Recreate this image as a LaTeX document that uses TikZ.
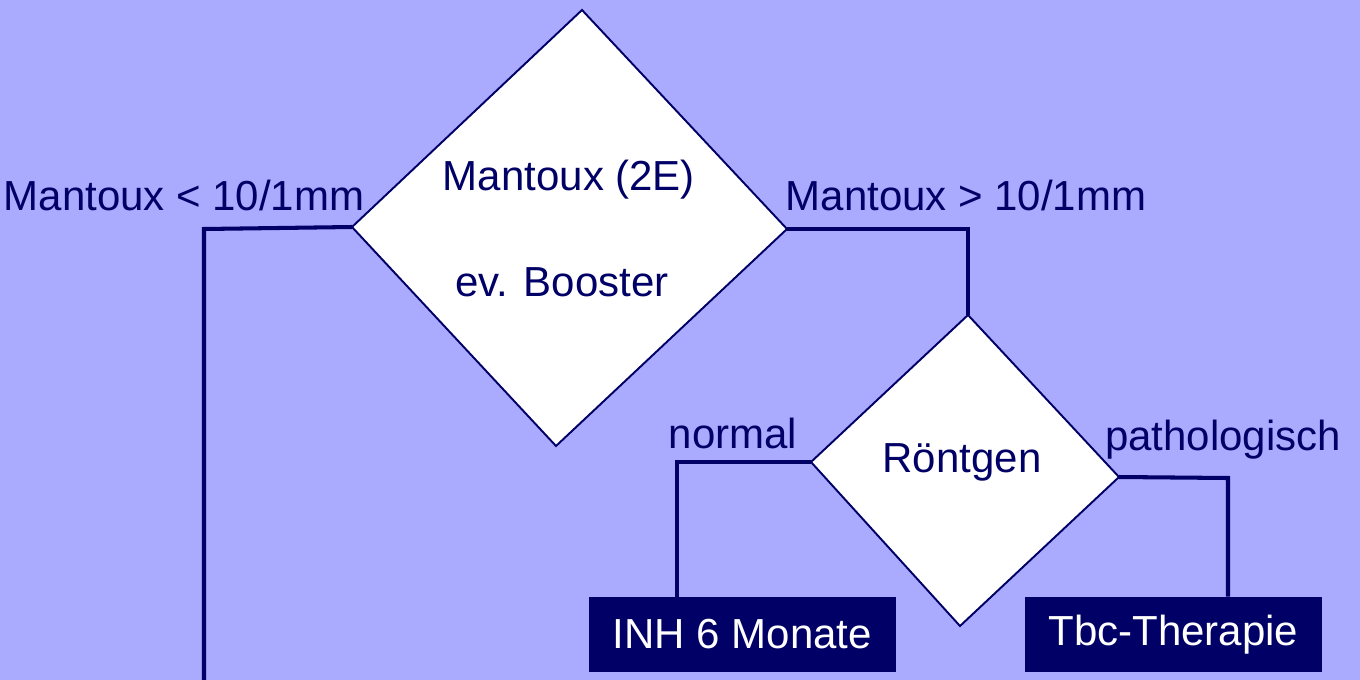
\documentclass[tikz,border=0pt]{standalone}
\usepackage{fontspec}
\setmainfont{Liberation Sans}
\definecolor{bgc}{HTML}{AAAAFF}
\definecolor{navy}{HTML}{000066}
\begin{document}
\begin{tikzpicture}[x=0.02cm,y=-0.02cm,
  lbl/.style={text=navy,inner sep=0pt,font=\fontsize{23.9}{28}\selectfont},
  conn/.style={draw=navy,line width=2.3pt,line join=miter},
  decision/.style={draw=navy,fill=white,line width=1.1pt,line join=miter},
  action/.style={fill=navy,text=white,inner sep=0pt,font=\fontsize{23.9}{28}\selectfont}]
\fill[bgc] (0,0) rectangle (1360,680);
\useasboundingbox (0,0) rectangle (1360,680);
% big decision vertices
\coordinate (mT) at (582,10);
\coordinate (mL) at (352,227);
\coordinate (mB) at (556,446);
\coordinate (mR) at (787,229);
% roentgen vertices
\coordinate (rT) at (968,315);
\coordinate (rL) at (811,462);
\coordinate (rB) at (960,626);
\coordinate (rR) at (1119,477);
% corners and free end
\coordinate (cL) at (204,229);
\coordinate (endL) at (204,680);
\coordinate (cR) at (968,229);
\coordinate (cN) at (677,462);
\coordinate (cP) at (1228,478);
% action boxes
\node[action,minimum width=6.14cm,minimum height=1.5cm] (inh) at (742.5,634.5) {INH 6 Monate};
\node[action,minimum width=5.94cm,minimum height=1.5cm] (tbc) at (1173.5,634.5) {Tbc-Therapie};
% connectors
\draw[conn] (mL) -- (cL) -- (endL);
\draw[conn] (mR) -- (cR) -- (rT);
\draw[conn] (rL) -- (cN) -- (cN |- inh.north);
\draw[conn] (rR) -- (cP) -- (cP |- tbc.north);
% diamonds
\draw[decision] (mT) -- (mR) -- (mB) -- (mL) -- cycle;
\draw[decision] (rT) -- (rR) -- (rB) -- (rL) -- cycle;
% texts
\node[lbl] (t1) at (569,180) {Mantoux (2E)};
\node[lbl] (t2) at (562,282) {ev. Booster};
\node[lbl] (t3) at (962,462) {Röntgen};
\node[lbl] (l1) at (184,195) {Mantoux < 10/1mm};
\node[lbl] (l2) at (966,195) {Mantoux > 10/1mm};
\node[lbl] (l3) at (733,433) {normal};
\node[lbl] (l4) at (1223,440) {pathologisch};
\end{tikzpicture}
\end{document}
